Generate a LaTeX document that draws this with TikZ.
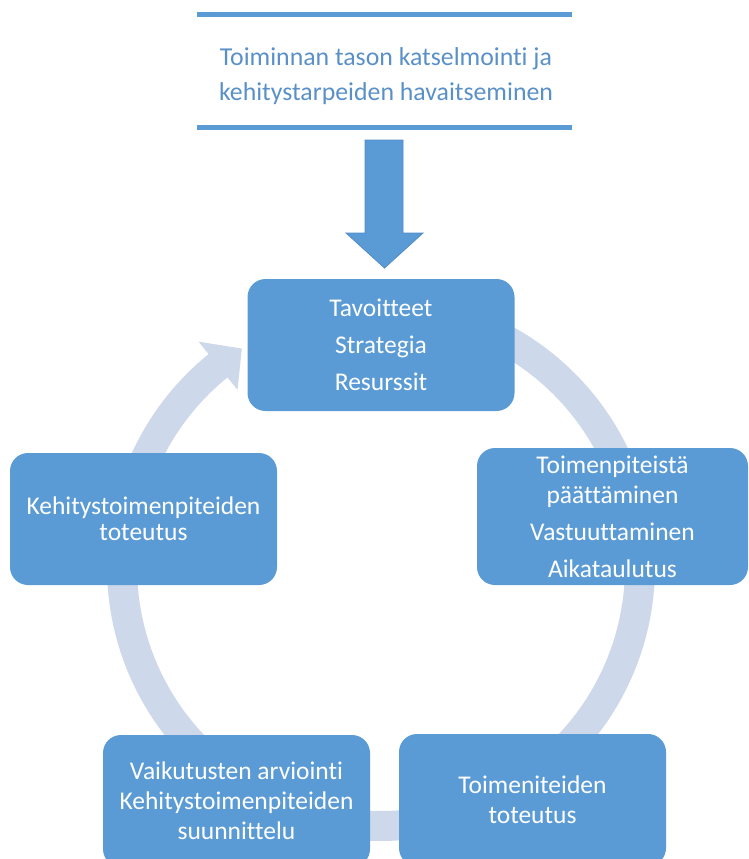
\documentclass[tikz,border=0pt]{standalone}
\usepackage{fontspec}
\setmainfont[Ligatures=NoCommon]{Carlito}
\definecolor{accent}{HTML}{5B9BD5}
\definecolor{accentedge}{HTML}{4F8BC6}
\definecolor{ringblue}{HTML}{CDD8EA}
\definecolor{headtext}{HTML}{5A90C8}
\begin{document}
\begin{tikzpicture}[x=1pt,y=-1pt,
  stage/.style={rectangle, rounded corners=18pt, fill=accent, text=white,
    align=center, minimum width=267pt, minimum height=132pt, inner sep=0pt,
    font=\fontsize{25.5}{30}\selectfont},
  rule/.style={accent, line width=5pt},
  ring/.style={ringblue, line width=30pt},
  bigarrow/.style={fill=accent, draw=accentedge, line width=0.8pt}]
\useasboundingbox (0,0) rectangle (749,859);
\clip (0,0) rectangle (749,859);

% heading between two rules
\coordinate (r1a) at (197,15);  \coordinate (r1b) at (572,15);
\coordinate (r2a) at (197,127); \coordinate (r2b) at (572,127);
\draw[rule] (r1a) -- (r1b);
\draw[rule] (r2a) -- (r2b);
\node[text=headtext, align=center, font=\fontsize{25.8}{35}\selectfont] (title) at (386,76.5)
  {Toiminnan tason katselmointi ja\\kehitystarpeiden havaitseminen};

% block arrow down into the cycle
\fill[bigarrow] (365,140) -- (403,140) -- (403,233) -- (423,233) -- (384.5,268)
  -- (346,233) -- (365,233) -- cycle;

% circular arrow behind the stages
\begin{scope}[shift={(381,567)}]
  \draw[ring] plot[domain=-85:231.5, samples=160] ({259*cos(\x)}, {259*sin(\x)});
  \fill[ringblue] (231:290) -- (237.5:259) -- (231:228) -- cycle;
\end{scope}

% stages of the cycle
\node[stage] (goals) at (381,345) {Tavoitteet\\[7pt]Strategia\\[7pt]Resurssit};
\node[stage, minimum width=271pt, minimum height=137pt] (decide) at (612.5,516.5)
  {Toimenpiteistä\\päättäminen\\[7pt]Vastuuttaminen\\[7pt]Aikataulutus};
\node[stage] (impl) at (532.5,800) {Toimeniteiden\\toteutus};
\node[stage, font=\fontsize{25.5}{30}\selectfont] (evalplan) at (236.5,801)
  {Vaikutusten arviointi\\Kehitystoimenpiteiden\\suunnittelu};
\node[stage, font=\fontsize{25.5}{26}\selectfont] (devimpl) at (143.5,519)
  {Kehitystoimenpiteiden\\toteutus};
\end{tikzpicture}
\end{document}
